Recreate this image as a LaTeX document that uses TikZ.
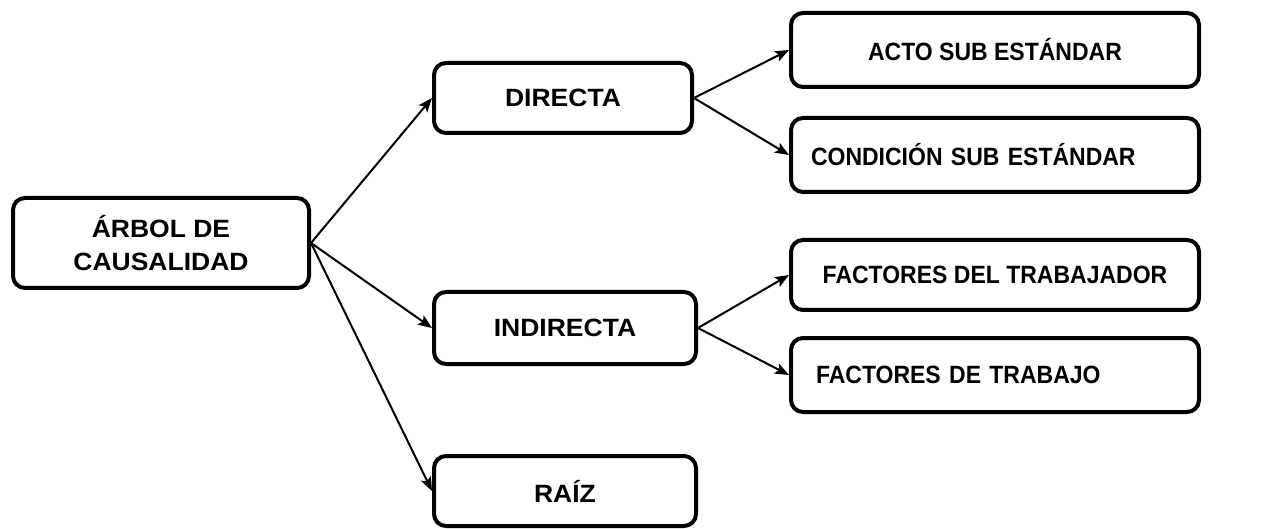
\documentclass[tikz,border=0pt]{standalone}
\usepackage{fontspec}
\setmainfont{Liberation Sans}
\newfontfamily\widefont[FakeStretch=1.06]{Liberation Sans}
\newfontfamily\narrowfont[FakeStretch=0.92]{Liberation Sans}
\usetikzlibrary{arrows.meta}
\begin{document}
\begin{tikzpicture}[x=1pt,y=-1pt,
  box/.style={draw=black, line width=4pt, rounded corners=12pt, fill=white,
    font=\widefont\fontsize{25}{33}\selectfont\bfseries, align=center, inner sep=0pt},
  rbox/.style={box, font=\narrowfont\fontsize{25}{33}\selectfont\bfseries},
  leftbox/.style={rbox, align=left, text width=#1},
  conn/.style={draw=black, line width=2pt, -{Stealth[length=14pt,width=11pt,inset=3pt]}}
]
\useasboundingbox (0,0) rectangle (1285,529);
\fill[white] (0,0) rectangle (1285,529);

\node[box, minimum width=296pt, minimum height=90pt] (arbol) at (161,243) {ÁRBOL DE\\CAUSALIDAD};
\node[box, minimum width=258pt, minimum height=70pt] (directa) at (563,98) {DIRECTA};
\node[box, minimum width=262pt, minimum height=72pt] (indirecta) at (565,328) {INDIRECTA};
\node[box, minimum width=262pt, minimum height=70pt] (raiz) at (565,491) {RAÍZ};

\node[rbox, minimum width=408pt, minimum height=74pt] (acto) at (995,50) {ACTO SUB ESTÁNDAR};
\node[leftbox=368pt, inner xsep=20pt, minimum width=408pt, minimum height=74pt] (cond) at (995,155) {CONDICIÓN SUB ESTÁNDAR};
\node[rbox, minimum width=408pt, minimum height=70pt] (ftrab) at (995,275) {FACTORES DEL TRABAJADOR};
\node[leftbox=358pt, inner xsep=25pt, minimum width=408pt, minimum height=74pt] (fdtrab) at (995,375) {FACTORES DE TRABAJO};

\draw[conn] (arbol.east) -- (directa.west);
\draw[conn] (arbol.east) -- (indirecta.west);
\draw[conn] (arbol.east) -- (raiz.west);
\draw[conn] (directa.east) -- (acto.west);
\draw[conn] (directa.east) -- (cond.west);
\draw[conn] (indirecta.east) -- (ftrab.west);
\draw[conn] (indirecta.east) -- (fdtrab.west);
\end{tikzpicture}
\end{document}
